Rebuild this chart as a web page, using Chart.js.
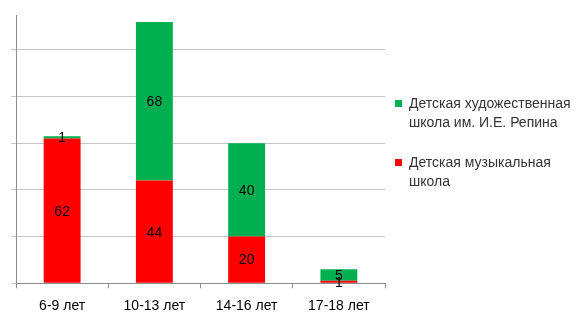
<!DOCTYPE html>
<html>
<head>
<meta charset="utf-8">
<script src="https://cdn.jsdelivr.net/npm/chart.js@4/dist/chart.umd.min.js"></script>
<style>
html,body{margin:0;padding:0;background:#fff;}
#wrap{position:relative;width:579px;height:316px;overflow:hidden;}
#legend{position:absolute;left:395px;top:94px;width:184px;font-family:"Liberation Sans",Arial,sans-serif;font-size:14px;color:#333;}
.item{position:relative;padding-left:14px;line-height:19px;margin-bottom:21px;}
.sw{position:absolute;left:0;top:6px;width:7px;height:7px;}
</style>
</head>
<body>
<div id="wrap">
<canvas id="c" width="579" height="316"></canvas>
<div id="legend"></div>
</div>
<script>
const categories = ["6-9 лет", "10-13 лет", "14-16 лет", "17-18 лет"];
const musicLabel = "Детская музыкальная школа";
const musicValues = [62, 44, 20, 1];
const artLabel = "Детская художественная школа им. И.Е. Репина";
const artValues = [1, 68, 40, 5];
const yMax = 115;
const yStep = 20;

const GRID = "#c4c4c4";
const AXIS = "#8c8c8c";

const valueLabels = {
  id: "valueLabels",
  afterDatasetsDraw(chart) {
    const ctx = chart.ctx;
    ctx.save();
    ctx.font = "14px 'Liberation Sans', Arial, sans-serif";
    ctx.fillStyle = "#000";
    ctx.textAlign = "center";
    ctx.textBaseline = "middle";
    chart.data.datasets.forEach((ds, di) => {
      const meta = chart.getDatasetMeta(di);
      meta.data.forEach((bar, i) => {
        const p = bar.getProps(["x", "y", "base"], true);
        ctx.fillText(String(ds.data[i]), p.x, (p.y + p.base) / 2 + 1);
      });
    });
    ctx.restore();
  }
};

const chart = new Chart(document.getElementById("c"), {
  type: "bar",
  data: {
    labels: categories,
    datasets: [
      { label: musicLabel, data: musicValues, backgroundColor: "#ff0000" },
      { label: artLabel, data: artValues, backgroundColor: "#00b050" }
    ]
  },
  options: {
    responsive: false,
    animation: false,
    layout: { padding: { left: 11, right: 194, top: 15, bottom: -9 } },
    datasets: { bar: { categoryPercentage: 1, barPercentage: 0.4 } },
    plugins: { legend: { display: false }, tooltip: { enabled: false } },
    scales: {
      x: {
        stacked: true,
        grid: { drawOnChartArea: false, drawTicks: true, tickLength: 5, color: AXIS },
        border: { color: AXIS },
        ticks: { color: "#000", padding: 10, font: { family: "'Liberation Sans', Arial, sans-serif", size: 14 } }
      },
      y: {
        stacked: true,
        min: 0,
        max: yMax,
        ticks: { display: false, stepSize: yStep },
        grid: {
          tickLength: 5,
          color: (c) => (c.tick && c.tick.value === yMax ? "rgba(0,0,0,0)" : GRID)
        },
        border: { color: AXIS }
      }
    }
  },
  plugins: [valueLabels]
});

const legend = document.getElementById("legend");
[...chart.data.datasets].reverse().forEach(ds => {
  const d = document.createElement("div");
  d.className = "item";
  const s = document.createElement("span");
  s.className = "sw";
  s.style.background = ds.backgroundColor;
  d.appendChild(s);
  d.appendChild(document.createTextNode(ds.label));
  legend.appendChild(d);
});
</script>
</body>
</html>
